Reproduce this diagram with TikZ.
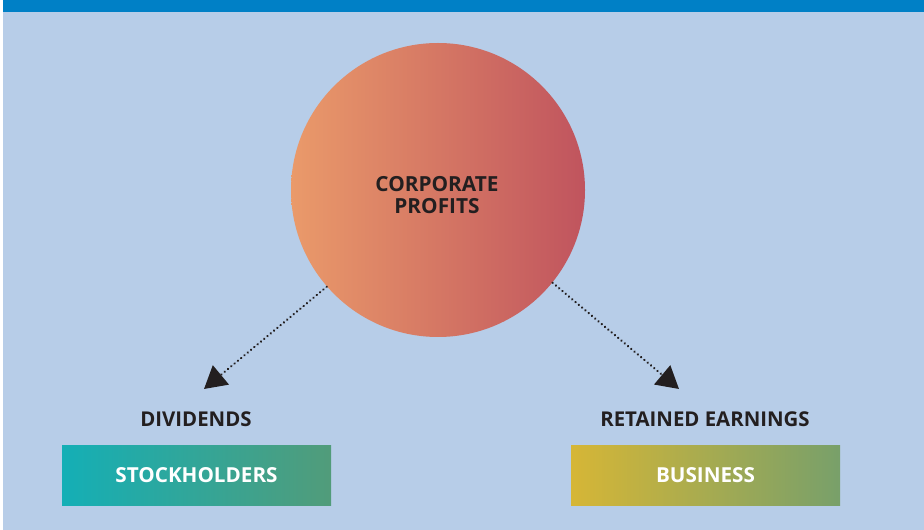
\documentclass[tikz,border=0pt]{standalone}
\usepackage{fontspec}
\setmainfont{Open Sans}
\usetikzlibrary{arrows.meta}

\definecolor{barblue}{RGB}{0,128,198}
\definecolor{bgblue}{RGB}{183,205,232}
\definecolor{inkdark}{RGB}{35,31,32}
\definecolor{circleft}{RGB}{234,154,106}
\definecolor{circright}{RGB}{192,84,94}
\definecolor{stockleft}{RGB}{20,175,182}
\definecolor{stockright}{RGB}{81,156,122}
\definecolor{busleft}{RGB}{214,182,54}
\definecolor{busright}{RGB}{120,160,106}

\tikzset{
label text/.style={font=\fontsize{15.3}{18}\selectfont\bfseries, text=inkdark, inner sep=0.75pt},
box text/.style={font=\fontsize{15.5}{18}\selectfont\bfseries, text=white, inner sep=0pt,
  minimum width=201.75pt, minimum height=44.25pt},
dotted arrow/.style={color=inkdark, line width=1.9pt, line cap=round,
  dash pattern=on 0.01pt off 3.2pt, -{Triangle[length=16.5pt,width=18.5pt,line cap=butt]}}}
\tikzset{every picture/.style={line width=0.75pt}}

\begin{document}
\begin{tikzpicture}[x=0.75pt,y=0.75pt,yscale=-1,xscale=1]
%set diagram left start at 0, and has height of 530
\path[fill=white] (0,0) rectangle (924,530);
%Shape: Rectangle [id:background]
\fill[bgblue] (3,0) rectangle (924,530);
%Shape: Rectangle [id:topbar]
\fill[barblue] (3,0) rectangle (924,12);

%Shape: Circle [id:profits]
\node (profits) [circle, minimum size=220.5pt, inner sep=0pt, left color=circleft, right color=circright] at (438,190) {};
% Text Node
\node (profitstext) [align=center, font=\fontsize{15.6}{16.5}\selectfont\bfseries, text=inkdark] at (437,195)
  {CORPORATE\\PROFITS};

% Text Node
\node (dividends) [label text] at (196,419) {DIVIDENDS};
% Text Node
\node (retained) [label text] at (705,419) {RETAINED EARNINGS};

%Shape: Rectangle [id:stockholders]
\node (stockholders) [box text, left color=stockleft, right color=stockright] at (196.5,475.5) {STOCKHOLDERS};
%Shape: Rectangle [id:business]
\node (business) [box text, left color=busleft, right color=busright] at (705.5,475.5) {BUSINESS};

\coordinate (divtip) at (204,389);
\coordinate (rettip) at (679,389);

%Straight Lines [id:todividends]
\draw [dotted arrow] (profits.-139.4) -- (divtip);
%Straight Lines [id:toretained]
\draw [dotted arrow] (profits.-39.5) -- (rettip);

\end{tikzpicture}
\end{document}
